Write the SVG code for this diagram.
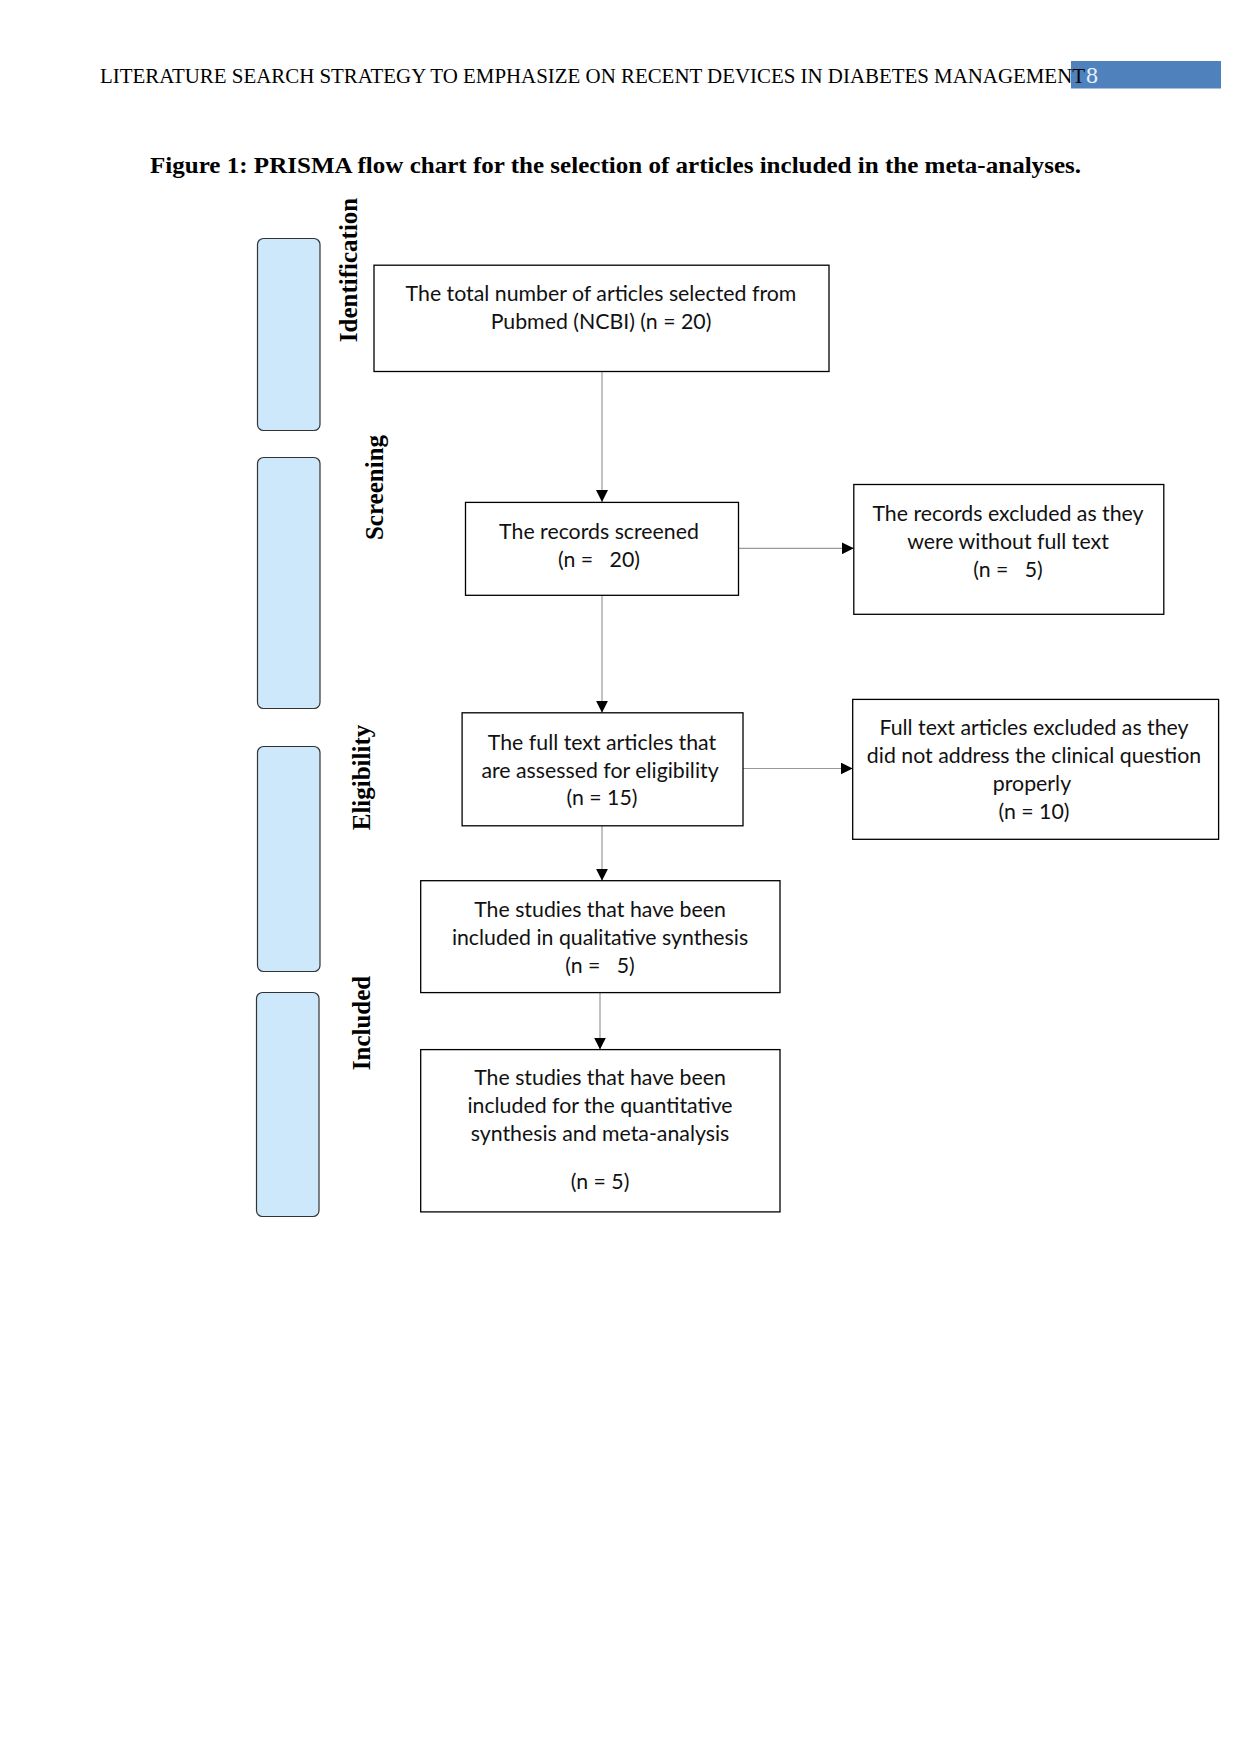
<svg xmlns="http://www.w3.org/2000/svg" width="1241" height="1754" viewBox="0 0 1241 1754">
<defs>
<style>
.hdr{font-family:"Liberation Serif","Times New Roman",serif;font-size:20px;fill:#000}
.title{font-family:"Liberation Serif","Times New Roman",serif;font-size:24px;font-weight:bold;fill:#000}
.phase{font-family:"Liberation Serif","Times New Roman",serif;font-size:25px;font-weight:bold;fill:#000;text-anchor:middle}
.band{fill:#cde8fb;stroke:#333;stroke-width:1.2}
.box{fill:#fff;stroke:#000;stroke-width:1.3}
.t{font-family:Lato,"Liberation Sans",sans-serif;font-size:21.3px;fill:#111;text-anchor:middle}
.conn{stroke:#999;stroke-width:1.2;fill:none;marker-end:url(#arr)}
</style>
<marker id="arr" markerWidth="13" markerHeight="12" refX="12" refY="6" orient="auto" markerUnits="userSpaceOnUse">
<path d="M0,0 L12,6 L0,12 Z" fill="#000"/>
</marker>
</defs>
<rect width="1241" height="1754" fill="#fff"/>

<g id="header">
<rect x="1071" y="61" width="150" height="27.5" fill="#4f81bd"/>
<text class="hdr" x="100" y="83" textLength="985" lengthAdjust="spacingAndGlyphs">LITERATURE SEARCH STRATEGY TO EMPHASIZE ON RECENT DEVICES IN DIABETES MANAGEMENT</text>
<text x="1086" y="83" font-family="Liberation Serif, serif" font-size="24" fill="#e6f0ff">8</text>
</g>

<g id="title">
<text class="title" x="150" y="173" textLength="931" lengthAdjust="spacingAndGlyphs">Figure 1: PRISMA flow chart for the selection of articles included in the meta-analyses.</text>
</g>

<g id="phases">
<rect class="band" x="257.5" y="238.5" width="62.5" height="192" rx="6"/>
<rect class="band" x="257.5" y="457.5" width="62.5" height="251" rx="6"/>
<rect class="band" x="257.5" y="746.5" width="62.5" height="225" rx="6"/>
<rect class="band" x="256.5" y="992.5" width="62.5" height="224" rx="6"/>
<text class="phase" transform="translate(357,270) rotate(-90)">Identification</text>
<text class="phase" transform="translate(383,487.5) rotate(-90)">Screening</text>
<text class="phase" transform="translate(370,777.5) rotate(-90)">Eligibility</text>
<text class="phase" transform="translate(370,1023) rotate(-90)">Included</text>
</g>

<g id="connectors">
<line class="conn" x1="602" y1="371.5" x2="602" y2="502"/>
<line class="conn" x1="738.5" y1="548.3" x2="853.8" y2="548.3" stroke="#bbb"/>
<line class="conn" x1="602" y1="595.3" x2="602" y2="712.8"/>
<line class="conn" x1="743" y1="768.5" x2="852.7" y2="768.5"/>
<line class="conn" x1="602" y1="825.8" x2="602" y2="880.7"/>
<line class="conn" x1="600" y1="992.6" x2="600" y2="1049.6" stroke="#bbb"/>
</g>

<g id="n1">
<rect class="box" x="374" y="265.2" width="455" height="106.3"/>
<text class="t" x="601" y="301">The total number of articles selected from</text>
<text class="t" x="601" y="329">Pubmed (NCBI) (n = 20)</text>
</g>

<g id="n2">
<rect class="box" x="465.5" y="502.4" width="273" height="92.9"/>
<text class="t" x="599" y="538.5">The records screened</text>
<text class="t" x="599" y="566.5" xml:space="preserve">(n =   20)</text>
</g>

<g id="n3">
<rect class="box" x="853.8" y="484.5" width="310" height="129.8"/>
<text class="t" x="1008" y="520.5">The records excluded as they</text>
<text class="t" x="1008" y="548.5">were without full text</text>
<text class="t" x="1008" y="576.5" xml:space="preserve">(n =   5)</text>
</g>

<g id="n4">
<rect class="box" x="462.1" y="712.8" width="280.9" height="113"/>
<text class="t" x="602" y="750">The full text articles that</text>
<text class="t" x="600" y="777.5">are assessed for eligibility</text>
<text class="t" x="602" y="805">(n = 15)</text>
</g>

<g id="n5">
<rect class="box" x="852.7" y="699.4" width="365.9" height="139.9"/>
<text class="t" x="1034" y="735">Full text articles excluded as they</text>
<text class="t" x="1034" y="763">did not address the clinical question</text>
<text class="t" x="1032" y="791">properly</text>
<text class="t" x="1034" y="819">(n = 10)</text>
</g>

<g id="n6">
<rect class="box" x="420.7" y="880.7" width="359.3" height="111.9"/>
<text class="t" x="600" y="916.5">The studies that have been</text>
<text class="t" x="600" y="945">included in qualitative synthesis</text>
<text class="t" x="600" y="972.5" xml:space="preserve">(n =   5)</text>
</g>

<g id="n7">
<rect class="box" x="420.7" y="1049.6" width="359.3" height="162.3"/>
<text class="t" x="600" y="1085">The studies that have been</text>
<text class="t" x="600" y="1113">included for the quantitative</text>
<text class="t" x="600" y="1141">synthesis and meta-analysis</text>
<text class="t" x="600" y="1189">(n = 5)</text>
</g>
</svg>
